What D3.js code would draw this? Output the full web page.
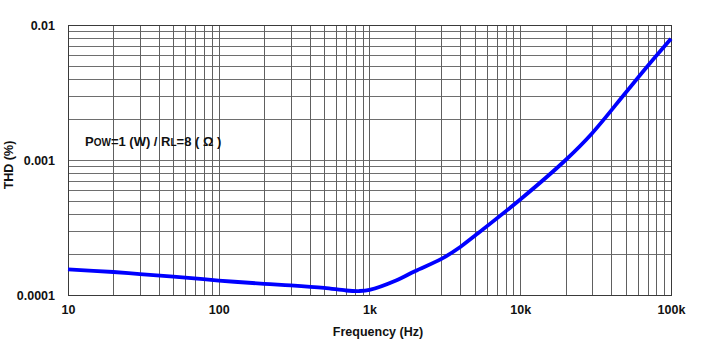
<!DOCTYPE html>
<html>
<head>
<meta charset="utf-8">
<script src="https://cdn.jsdelivr.net/npm/d3@7"></script>
<style>
  html, body { margin: 0; padding: 0; background: #fff; }
  svg { display: block; font-family: "Liberation Sans", Arial, sans-serif; }
</style>
</head>
<body>
<svg id="chart" width="709" height="339"></svg>
<script>
// THD vs frequency measurement, Pow = 1 W into 8 ohm
const freqHz = [10, 20, 30, 50, 100, 200, 300, 500, 700, 850, 1000, 1500, 2000, 3000, 4000, 5000, 10000, 20000, 30000, 50000, 70000, 100000];
const thdPct = [1.55e-4, 1.48e-4, 1.43e-4, 1.37e-4, 1.28e-4, 1.21e-4, 1.18e-4, 1.13e-4, 1.08e-4, 1.07e-4, 1.09e-4, 1.28e-4, 1.50e-4, 1.85e-4, 2.27e-4, 2.75e-4, 5.1e-4, 1.0e-3, 1.58e-3, 3.15e-3, 4.97e-3, 7.9e-3];

const xTickValues = [10, 100, 1000, 10000, 100000];
const xTickLabels = ["10", "100", "1k", "10k", "100k"];
const yTickValues = [0.0001, 0.001, 0.01];
const yTickLabels = ["0.0001", "0.001", "0.01"];

const svg = d3.select("#chart");
const plotLeft = 68, plotRight = 671, plotTop = 25, plotBottom = 295;
const labelFont = "Liberation Sans, Arial, sans-serif";

const x = d3.scaleLog().domain([10, 100000]).range([plotLeft, plotRight]);
const y = d3.scaleLog().domain([0.0001, 0.01]).range([plotBottom, plotTop]);

// minor + major grid values per decade
const xGrid = [];
for (let d = 10; d < 100000; d *= 10) for (let m = 1; m <= 9; m++) xGrid.push(d * m);
xGrid.push(100000);
const yGrid = [];
for (let d = 0.0001; d < 0.0099; d *= 10) for (let m = 1; m <= 9; m++) yGrid.push(d * m);
yGrid.push(0.01);

const grid = svg.append("g").attr("shape-rendering", "crispEdges");
grid.selectAll("line.h").data(yGrid).join("line")
  .attr("x1", plotLeft).attr("x2", plotRight)
  .attr("y1", d => Math.round(y(d)) + 0.5).attr("y2", d => Math.round(y(d)) + 0.5)
  .attr("stroke", "#6e6e6e").attr("stroke-width", 1);
grid.selectAll("line.v").data(xGrid).join("line")
  .attr("y1", plotTop).attr("y2", plotBottom)
  .attr("x1", d => Math.round(x(d)) + 0.5).attr("x2", d => Math.round(x(d)) + 0.5)
  .attr("stroke", "#606060").attr("stroke-width", 1);

// plot frame
svg.append("rect")
  .attr("x", plotLeft + 0.5).attr("y", plotTop + 0.5)
  .attr("width", plotRight - plotLeft).attr("height", plotBottom - plotTop)
  .attr("fill", "none").attr("stroke", "#3a3a3a").attr("stroke-width", 1.4)
  .attr("shape-rendering", "crispEdges");

// axes (labels only)
const xAxis = d3.axisBottom(x).tickValues(xTickValues)
  .tickFormat((d, i) => xTickLabels[i]).tickSize(0).tickPadding(10);
svg.append("g").attr("transform", `translate(0,${plotBottom})`).call(xAxis)
  .call(g => g.select(".domain").remove())
  .selectAll("text").attr("font-size", 12.5).attr("font-weight", "bold")
  .attr("fill", "#111").attr("font-family", labelFont);

const yAxis = d3.axisLeft(y).tickValues(yTickValues)
  .tickFormat((d, i) => yTickLabels[i]).tickSize(0).tickPadding(13);
svg.append("g").attr("transform", `translate(${plotLeft},0)`).call(yAxis)
  .call(g => g.select(".domain").remove())
  .selectAll("text").attr("font-size", 12.5).attr("font-weight", "bold")
  .attr("fill", "#111").attr("font-family", labelFont);

// axis titles
svg.append("text").attr("x", 378).attr("y", 336)
  .attr("text-anchor", "middle").attr("font-size", 12.5).attr("font-weight", "bold")
  .attr("fill", "#111").text("Frequency (Hz)");
svg.append("text").attr("transform", "translate(13,165) rotate(-90)")
  .attr("text-anchor", "middle").attr("font-size", 12.5).attr("font-weight", "bold")
  .attr("fill", "#111").text("THD (%)");

// condition note
const note = svg.append("text").attr("x", 85).attr("y", 146)
  .attr("font-size", 13).attr("font-weight", "bold").attr("fill", "#111");
note.append("tspan").text("P");
note.append("tspan").attr("font-size", 10).text("OW");
note.append("tspan").text("=1 (W) / R");
note.append("tspan").attr("font-size", 10).text("L");
note.append("tspan").text("=8 ( Ω )");

// THD curve
const line = d3.line()
  .x(d => x(d[0])).y(d => y(d[1]))
  .curve(d3.curveCatmullRom.alpha(0.5));
svg.append("path")
  .datum(freqHz.map((f, i) => [f, thdPct[i]]))
  .attr("d", line)
  .attr("fill", "none").attr("stroke", "#0000ff")
  .attr("stroke-width", 3.8).attr("stroke-linejoin", "round");
</script>
</body>
</html>
